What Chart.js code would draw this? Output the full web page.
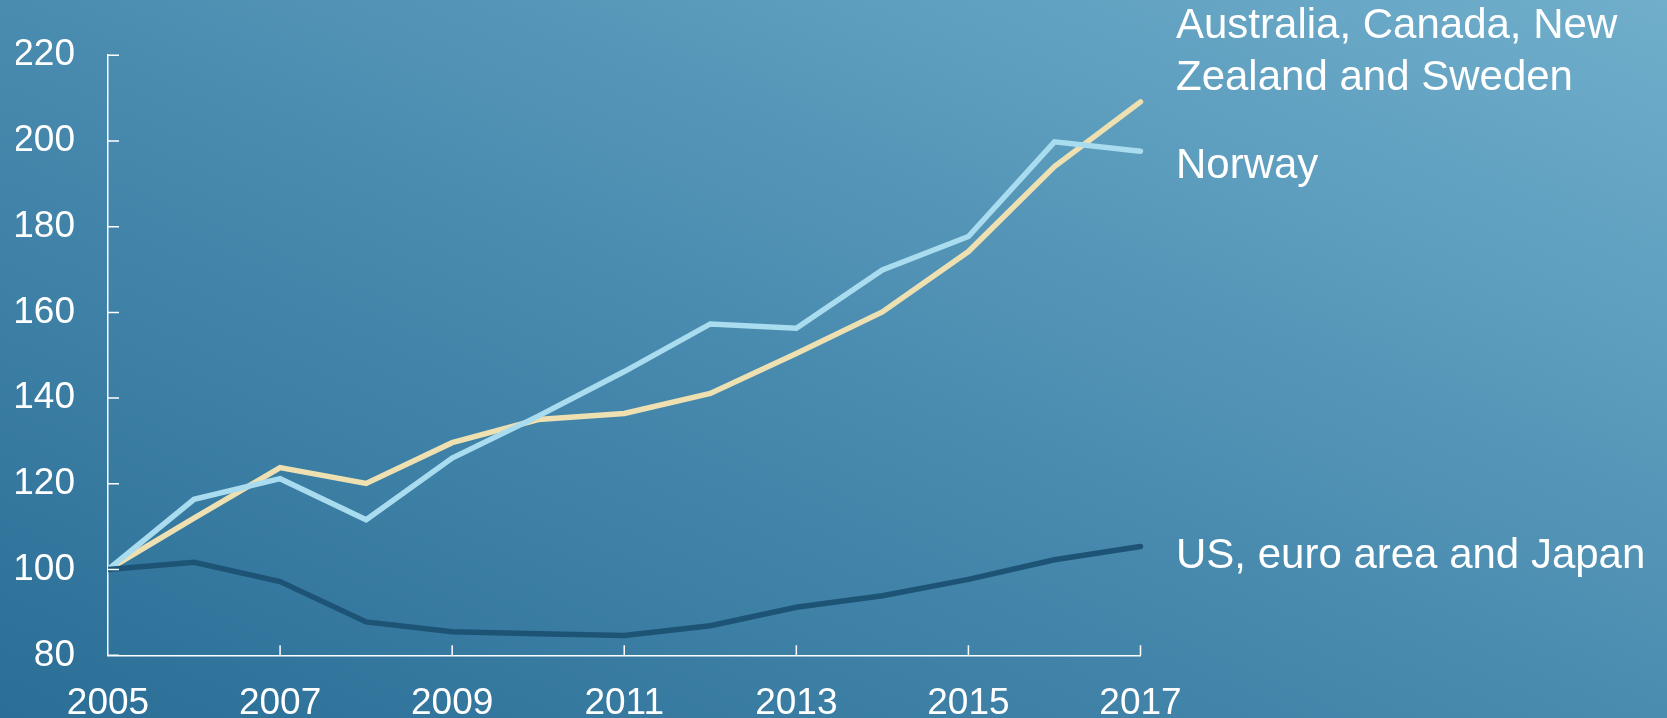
<!DOCTYPE html>
<html lang="en">
<head>
    <meta charset="UTF-8">
    <title>Index, 2005 = 100</title>
    <script src="https://cdn.jsdelivr.net/npm/chart.js"></script>
    <style>
        html, body { margin: 0; padding: 0; }
        body {
            width: 1667px; height: 718px; overflow: hidden; position: relative;
            background: linear-gradient(to top right, #2b6e96 0%, #4a8cb0 50%, #70aecb 100%);
            font-family: "Liberation Sans", Arial, sans-serif;
        }
        #wrap { position: absolute; left: 0; top: 0; width: 1667px; height: 718px; }
        .lbl { position: absolute; left: 1176px; color: #fff; font-size: 42px; line-height: 52px; white-space: nowrap; }
    </style>
</head>
<body>
    <div id="wrap"><canvas id="chart"></canvas></div>
    <div class="lbl" style="top:-2px">Australia, Canada, New<br>Zealand and Sweden</div>
    <div class="lbl" style="top:138px">Norway</div>
    <div class="lbl" style="top:528px">US, euro area and Japan</div>

    <script>
        var years = ['2005', '2006', '2007', '2008', '2009', '2010', '2011', '2012', '2013', '2014', '2015', '2016', '2017'];
        var norway = [100, 116.4, 121.2, 111.6, 126, 135.8, 146.2, 157.3, 156.3, 169.9, 177.7, 199.8, 197.6];
        var ausCanNzSwe = [100, 112, 123.8, 120.1, 129.6, 135, 136.4, 141.1, 150.4, 160.1, 174.2, 194, 209.1];
        var usEuroJapan = [100, 101.7, 97.2, 87.8, 85.5, 85, 84.6, 86.9, 91.2, 93.9, 97.7, 102.3, 105.4];
        var yTicks = [80, 100, 120, 140, 160, 180, 200, 220];

        // ticks pointing into the plot area
        var innerTicks = {
            id: 'innerTicks',
            afterDraw: function (chart) {
                var c = chart.ctx, x = chart.scales.x, y = chart.scales.y;
                c.save();
                c.strokeStyle = '#ffffff';
                c.lineWidth = 1.5;
                c.beginPath();
                yTicks.forEach(function (v) {
                    var py = y.getPixelForValue(v);
                    c.moveTo(x.left, py); c.lineTo(x.left + 11, py);
                });
                years.forEach(function (yr, i) {
                    if (i % 2 === 0 && i > 0) {
                        var px = x.getPixelForValue(i);
                        c.moveTo(px, y.bottom); c.lineTo(px, y.bottom - 10);
                    }
                });
                c.stroke();
                c.restore();
            }
        };

        var line = function (data, color) {
            return {
                data: data, borderColor: color, borderWidth: 5.5, pointRadius: 0, tension: 0,
                borderCapStyle: 'round', borderJoinStyle: 'miter', fill: false,
                clip: { left: 0, top: false, right: false, bottom: false }
            };
        };

        new Chart(document.getElementById('chart'), {
            type: 'line',
            data: {
                labels: years,
                datasets: [
                    line(usEuroJapan, '#1d5476'),
                    line(norway, '#aadcef'),
                    line(ausCanNzSwe, '#eee0b0')
                ]
            },
            options: {
                responsive: true,
                maintainAspectRatio: false,
                animation: false,
                layout: { padding: { left: 16, right: 526.5, top: 54, bottom: 0 } },
                plugins: { legend: { display: false }, tooltip: { enabled: false } },
                scales: {
                    x: {
                        grid: { display: true, drawOnChartArea: false, drawTicks: false },
                        border: { display: true, color: '#ffffff', width: 1.5 },
                        ticks: {
                            color: '#ffffff', padding: 30, maxRotation: 0, autoSkip: false,
                            font: { family: '"Liberation Sans", Arial, sans-serif', size: 37, lineHeight: 1 },
                            callback: function (v, i) { return i % 2 === 0 ? years[i] : ''; }
                        },
                        afterFit: function (s) { s.height = 62.7; }
                    },
                    y: {
                        min: 80, max: 220,
                        grid: { display: true, drawOnChartArea: false, drawTicks: false },
                        border: { display: true, color: '#ffffff', width: 1.5 },
                        ticks: {
                            color: '#ffffff', padding: 33, stepSize: 20,
                            font: { family: '"Liberation Sans", Arial, sans-serif', size: 37 }
                        },
                        afterFit: function (s) { s.width = 92; }
                    }
                }
            },
            plugins: [innerTicks]
        });
    </script>
</body>
</html>
